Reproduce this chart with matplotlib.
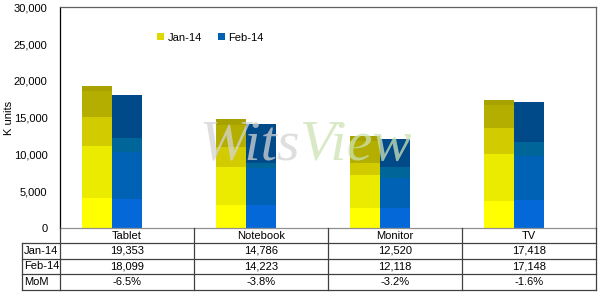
import numpy as np
import matplotlib
matplotlib.use('Agg')
import matplotlib.pyplot as plt
from matplotlib.patches import Patch
from matplotlib.lines import Line2D

plt.rcParams['font.family'] = ['Liberation Sans', 'DejaVu Sans']

# donnees (K units)
categories = ['Tablet', 'Notebook', 'Monitor', 'TV']
jan_total = [19353, 14786, 12520, 17418]
feb_total = [18099, 14223, 12118, 17148]
mom = ['-6.5%', '-3.8%', '-3.2%', '-1.6%']

# limites des bandes de couleur dans chaque barre (cumul, du bas vers le haut)
jan_breaks = [[4120, 11140, 15130, 18620],
              [3125, 8300, 11000, 14000],
              [2760, 7250, 8900, 11900],
              [3670, 10060, 13630, 16720]]
feb_breaks = [[3940, 10370, 12270],
              [3125, 8150, 8800],
              [2700, 6800, 8300],
              [3800, 9830, 11730]]

jan_colors = ['#FFFF00', '#EBEB00', '#D2CB00', '#B3AE00', '#A8A200']
feb_colors = ['#0468D8', '#0062B4', '#006699', '#004A8A']

W, H = 600, 292
fig = plt.figure(figsize=(6, 2.92), dpi=100)

# zone du graphique en pixels
ax_l, ax_r, ax_t, ax_b = 60, 596, 7.3, 228.3
ax = fig.add_axes([ax_l / W, 1 - ax_b / H, (ax_r - ax_l) / W, (ax_b - ax_t) / H])

x = np.arange(len(categories))
w = 30 / 134

for i in range(len(categories)):
    levels = [0] + jan_breaks[i] + [jan_total[i]]
    for k in range(len(levels) - 1):
        ax.bar(x[i] - w, levels[k + 1] - levels[k], w, bottom=levels[k],
               color=jan_colors[k], align='center', linewidth=0, zorder=2)
    levels = [0] + feb_breaks[i] + [feb_total[i]]
    for k in range(len(levels) - 1):
        ax.bar(x[i], levels[k + 1] - levels[k], w, bottom=levels[k],
               color=feb_colors[k], align='center', linewidth=0, zorder=2)

ax.set_xlim(-0.5, len(categories) - 0.5)
ax.set_ylim(0, 30000)
ax.set_yticks(np.arange(0, 30001, 5000))
ax.yaxis.set_major_formatter(matplotlib.ticker.FuncFormatter(lambda v, p: f'{int(v):,}'))
ax.set_xticks([])
ax.tick_params(axis='y', length=0, labelsize=8, pad=9)
ax.set_ylabel('K units', fontsize=8)
ax.yaxis.set_label_coords(-0.086, 0.5)

ax.spines['left'].set_color('#000000')
for s in ['top', 'right']:
    ax.spines[s].set_color('#606060')
ax.spines['bottom'].set_color('#909090')
for s in ax.spines.values():
    s.set_linewidth(0.9)

handles = [Patch(facecolor='#DDD800', edgecolor='none', label='Jan-14'),
           Patch(facecolor='#0060B0', edgecolor='none', label='Feb-14')]
ax.legend(handles=handles, ncol=2, loc='upper left', bbox_to_anchor=(0.163, 0.93),
          frameon=False, fontsize=8, handlelength=0.6, handleheight=0.6,
          handletextpad=0.3, columnspacing=1.5)

# filigrane
fig.text(300 / W, 1 - 160 / H, 'Wits', ha='right', va='baseline', fontsize=42,
         family='Liberation Serif', style='italic', color='#d4d4d4', alpha=0.75, zorder=5)
fig.text(300 / W, 1 - 160 / H, 'View', ha='left', va='baseline', fontsize=42,
         family='Liberation Serif', style='italic', color='#cde2b4', alpha=0.75, zorder=5)

# tableau de donnees sous le graphique
col_x = [ax_l + (ax_r - ax_l) * k / len(categories) for k in range(len(categories) + 1)]
row_y = [228.3, 243.3, 258.5, 274, 290]
lab_l = 21.5
lc = '#404040'


def fline(x0, y0, x1, y1, color=lc, lw=0.9):
    fig.add_artist(Line2D([x0 / W, x1 / W], [1 - y0 / H, 1 - y1 / H], color=color, linewidth=lw))


for yy in row_y[1:]:
    fline(lab_l, yy, ax_r, yy)
fline(lab_l, row_y[1], lab_l, row_y[-1])
for xx in col_x:
    fline(xx, row_y[0], xx, row_y[-1])

rows = [('Jan-14', [f'{v:,}' for v in jan_total]),
        ('Feb-14', [f'{v:,}' for v in feb_total]),
        ('MoM', mom)]

for j, name in enumerate(categories):
    cx = (col_x[j] + col_x[j + 1]) / 2
    fig.text(cx / W, 1 - (row_y[0] + row_y[1]) / 2 / H, name, ha='center', va='center', fontsize=8)

for r, (label, vals) in enumerate(rows):
    cy = (row_y[r + 1] + row_y[r + 2]) / 2
    fig.text((lab_l + 2.5) / W, 1 - cy / H, label, ha='left', va='center', fontsize=8)
    for j, v in enumerate(vals):
        cx = (col_x[j] + col_x[j + 1]) / 2
        fig.text(cx / W, 1 - cy / H, v, ha='center', va='center', fontsize=8)

fig.savefig('out.png', dpi=100)
